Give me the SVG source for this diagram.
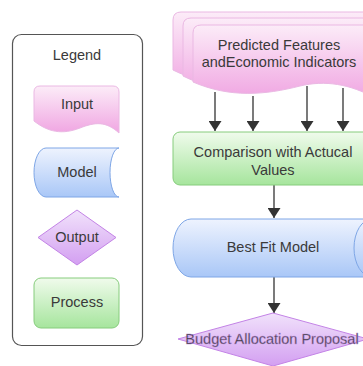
<svg xmlns="http://www.w3.org/2000/svg" width="363" height="366" viewBox="0 0 363 366">
  <defs>
    <linearGradient id="gInput" x1="0" y1="0" x2="0" y2="1">
      <stop offset="0" stop-color="#fcecf8"/>
      <stop offset="1" stop-color="#f0a6e2"/>
    </linearGradient>
    <linearGradient id="gModel" x1="0" y1="0" x2="0" y2="1">
      <stop offset="0" stop-color="#eef3fe"/>
      <stop offset="1" stop-color="#a9c7f7"/>
    </linearGradient>
    <linearGradient id="gOutput" x1="0" y1="0" x2="0" y2="1">
      <stop offset="0" stop-color="#f1e2fb"/>
      <stop offset="1" stop-color="#d39ff1"/>
    </linearGradient>
    <linearGradient id="gProcess" x1="0" y1="0" x2="0" y2="1">
      <stop offset="0" stop-color="#f0fbec"/>
      <stop offset="1" stop-color="#a6e59d"/>
    </linearGradient>
    <marker id="arrow" viewBox="0 0 10 13" refX="10" refY="6.5" markerWidth="10" markerHeight="13" markerUnits="userSpaceOnUse" orient="auto">
      <path d="M0,0 L10,6.5 L0,13 Z" fill="#333"/>
    </marker>
  </defs>
  <style>
    text { font-family: "Liberation Sans", Arial, sans-serif; font-size: 14.5px; fill: #3a3a3a; text-anchor: middle; }
    .input { fill: url(#gInput); stroke: #eab8e3; stroke-width: 1; }
    .model { fill: url(#gModel); stroke: #7ea6e6; stroke-width: 1; }
    .output { fill: url(#gOutput); stroke: #c383e6; stroke-width: 1; stroke-linejoin: round; }
    .process { fill: url(#gProcess); stroke: #86cc7c; stroke-width: 1; }
    .edge { stroke: #333; stroke-width: 1.3; fill: none; marker-end: url(#arrow); }
  </style>

  <rect width="363" height="366" fill="#ffffff"/>

  <!-- Legend panel -->
  <g id="legend">
    <rect x="12.5" y="34.5" width="130" height="311" rx="9" fill="#fff" stroke="#555" stroke-width="1.2"/>
    <text x="77" y="60">Legend</text>
    <g id="legend-input">
      <path class="input" d="M40,86 L113,86 Q119,86 119,92 L119,133 C106,121 95,122 80,128 C62,135 48,132 34,121 L34,92 Q34,86 40,86 Z"/>
      <text x="77" y="109">Input</text>
    </g>
    <g id="legend-model">
      <path class="model" d="M119,148 L46,148 A12,24.5 0 0 0 46,197 L119,197 A9,24.5 0 0 1 119,148 Z"/>
      <text x="77" y="177">Model</text>
    </g>
    <g id="legend-output">
      <path class="output" d="M77,210 L116,237.5 L77,265 L38,237.5 Z"/>
      <text x="77" y="242">Output</text>
    </g>
    <g id="legend-process">
      <rect class="process" x="34" y="278" width="85" height="50" rx="7"/>
      <text x="77" y="307">Process</text>
    </g>
  </g>

  <!-- Connectors -->
  <g id="connectors">
    <line class="edge" x1="215" y1="92" x2="215" y2="131"/>
    <line class="edge" x1="253" y1="96" x2="253" y2="131"/>
    <line class="edge" x1="307" y1="86" x2="307" y2="131"/>
    <line class="edge" x1="343" y1="88" x2="343" y2="131"/>
    <line class="edge" x1="274" y1="185" x2="274" y2="218"/>
    <line class="edge" x1="274" y1="277" x2="274" y2="313"/>
  </g>

  <!-- Stacked input: predicted features -->
  <g id="predicted-features">
    <path class="input" d="M181,12 L375,12 L375,90 C340,74 310,74 280,80 C240,88 205,86 173,70 L173,20 Q173,12 181,12 Z"/>
    <path class="input" d="M191,18 L375,18 L375,94 C345,80 315,78 290,84 C250,93 215,92 183,76 L183,26 Q183,18 191,18 Z"/>
    <path class="input" d="M201,25 L375,25 L375,98 C350,84 325,80 300,86 C265,95 230,98 193,82 L193,33 Q193,25 201,25 Z"/>
    <text x="279" y="50">Predicted Features</text>
    <text x="279" y="67">andEconomic Indicators</text>
  </g>

  <!-- Comparison process -->
  <g id="comparison">
    <rect class="process" x="173" y="132" width="200" height="53" rx="7"/>
    <text x="273" y="157">Comparison with Actucal</text>
    <text x="273" y="175">Values</text>
  </g>

  <!-- Best fit model -->
  <g id="best-fit-model">
    <path class="model" d="M372,219 L191,219 A18,29 0 0 0 191,277 L372,277 A18,29 0 0 0 372,219 Z"/>
    <path class="model" d="M372,219 A18,29 0 0 0 372,277" fill="none"/>
    <text x="273" y="252">Best Fit Model</text>
  </g>

  <!-- Budget allocation output -->
  <g id="budget-allocation">
    <path class="output" d="M273,313 L368,339 L273,366 L178,339 Z"/>
    <text x="272" y="344" style="stroke:#b98ad8;stroke-width:0.4">Budget Allocation Proposal</text>
  </g>
</svg>
